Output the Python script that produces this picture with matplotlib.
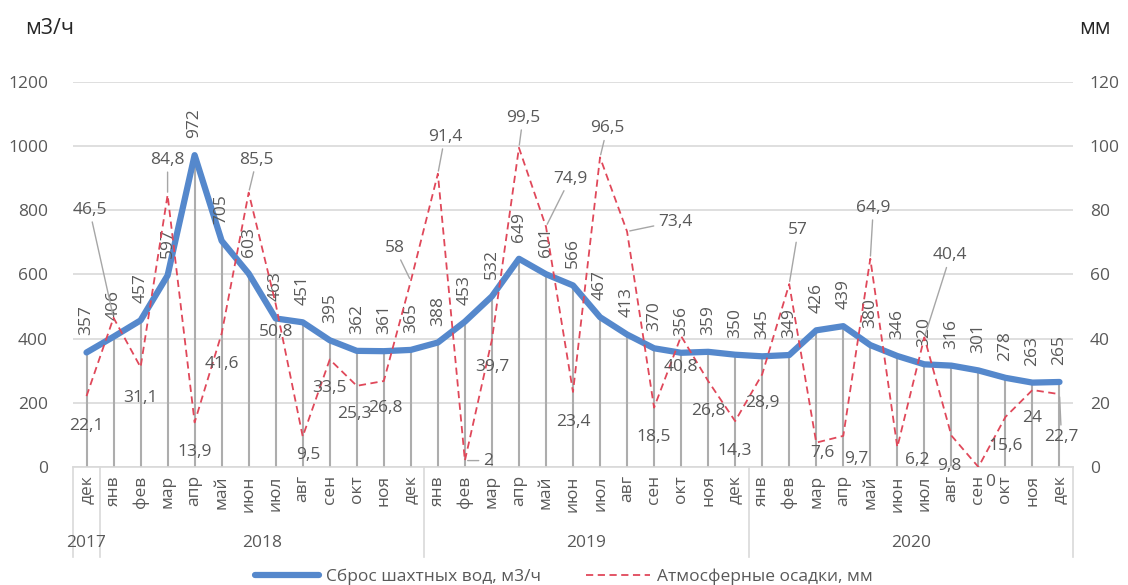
import matplotlib
matplotlib.use("Agg")
import matplotlib.pyplot as plt
import matplotlib.transforms as mtransforms
from matplotlib.lines import Line2D

plt.rcParams['font.family'] = ['Open Sans', 'DejaVu Sans']

# Данные: дек 2017 - дек 2020
months = ["дек",
          "янв", "фев", "мар", "апр", "май", "июн", "июл", "авг", "сен", "окт", "ноя", "дек",
          "янв", "фев", "мар", "апр", "май", "июн", "июл", "авг", "сен", "окт", "ноя", "дек",
          "янв", "фев", "мар", "апр", "май", "июн", "июл", "авг", "сен", "окт", "ноя", "дек"]
years = ["2017", "2018", "2019", "2020"]
year_counts = [1, 12, 12, 12]

sbros = [357, 406, 457, 597, 972, 705, 603, 463, 451, 395, 362, 361, 365,
         388, 453, 532, 649, 601, 566, 467, 413, 370, 356, 359, 350,
         345, 349, 426, 439, 380, 346, 320, 316, 301, 278, 263, 265]
osadki = [22.1, 46.5, 31.1, 84.8, 13.9, 41.6, 85.5, 50.8, 9.5, 33.5, 25.3, 26.8, 58,
          91.4, 2, 39.7, 99.5, 74.9, 23.4, 96.5, 73.4, 18.5, 40.8, 26.8, 14.3,
          28.9, 57, 7.6, 9.7, 64.9, 6.2, 40.4, 9.8, 0, 15.6, 24, 22.7]

# смещения подписей осадков (пиксели) и выноски
osadki_off = [(0, -30), (-24, 108), (0, -31), (0, 35), (0, -30), (0, -30), (8, 33), (0, -28),
              (6, -18), (0, -28), (-2, -28), (2, -27), (-16, 33),
              (7, 37), (23, 0), (0, -27), (4, 30), (24, 48), (0, -30), (7, 29), (48, 10),
              (0, -29), (0, -31), (0, -30), (0, -30),
              (0, -29), (9, 54), (6, -10), (13, -23), (3, 51), (20, -13), (26, 82), (-2, -30),
              (12, -15), (0, -29), (0, -28), (2, -43)]
leaders = {1, 3, 6, 12, 13, 14, 16, 17, 19, 20, 26, 29, 31, 36}

blue = "#5588CC"
red = "#E0485A"
grey_txt = "#595959"
grid_c = "#D9D9D9"
fs = 12.5

x = list(range(len(months)))

fig = plt.figure(figsize=(11.28, 5.85), dpi=100)
ax = fig.add_axes([73 / 1128, 118 / 585, 1000 / 1128, 385 / 585])
ax2 = ax.twinx()

# линии-проекции
ax.vlines(x, 0, sbros, color="#ADADAD", lw=1.5, zorder=1)
ax.plot(x, sbros, color=blue, lw=4.5, solid_capstyle="round", zorder=3,
        label="Сброс шахтных вод, м3/ч")
ax2.plot(x, osadki, color=red, lw=1.3, ls=(0, (4, 2.5)), zorder=3,
         label="Атмосферные осадки, мм")

ax.set_xlim(-0.5, len(months) - 0.5)
ax.set_ylim(0, 1200)
ax2.set_ylim(0, 120)
ax.set_yticks(range(0, 1201, 200))
ax2.set_yticks(range(0, 121, 20))
ax.grid(axis="y", color=grid_c, lw=1.2)
ax.set_axisbelow(True)

for a in (ax, ax2):
    for s in a.spines.values():
        s.set_visible(False)
ax.tick_params(axis="y", length=0, pad=18, labelsize=fs, labelcolor=grey_txt)
ax2.tick_params(axis="y", length=0, pad=12, labelsize=fs, labelcolor=grey_txt)

ax.set_xticks(x)
ax.set_xticklabels(months, rotation=90, fontsize=fs, color=grey_txt)
ax.tick_params(axis="x", length=0, pad=6)

# ось категорий: линии и годы
trans = mtransforms.blended_transform_factory(ax.transData, ax.transAxes)
ax.add_line(Line2D([-0.5, len(months) - 0.5], [0, 0], transform=trans, color=grid_c,
                   lw=1.2, clip_on=False))
edges = [-0.5]
for c in year_counts:
    edges.append(edges[-1] + c)
for e in edges:
    ax.add_line(Line2D([e, e], [0, -0.234], transform=trans, color=grid_c, lw=1.2,
                       clip_on=False))
for i, yr in enumerate(years):
    cx = (edges[i] + edges[i + 1]) / 2
    ax.text(cx, -0.197, yr, transform=trans, ha="center", va="center",
            fontsize=fs, color=grey_txt)

# подписи сброса
for xi, v in zip(x, sbros):
    ax.annotate(f"{v}", (xi, v), xytext=(0, 17), textcoords="offset pixels",
                rotation=90, ha="center", va="bottom", fontsize=fs, color=grey_txt,
                zorder=5)

# подписи осадков
for i, (v, off) in enumerate(zip(osadki, osadki_off)):
    lbl = f"{v:g}".replace(".", ",")
    props = None
    if i in leaders:
        props = dict(arrowstyle="-", color="#A6A6A6", lw=1, shrinkA=1, shrinkB=2)
    ax2.annotate(lbl, (i, v), xytext=off, textcoords="offset pixels",
                 ha="center", va="center", fontsize=fs, color=grey_txt,
                 arrowprops=props, zorder=5)

fig.text(25 / 1128, 1 - 28 / 585, "м3/ч", ha="left", va="center", fontsize=15.5, color="#262626")
fig.text(1079 / 1128, 1 - 28 / 585, "мм", ha="left", va="center", fontsize=15.5, color="#262626")

h1, l1 = ax.get_legend_handles_labels()
h2, l2 = ax2.get_legend_handles_labels()
fig.legend(h1 + h2, l1 + l2, loc="center", bbox_to_anchor=(0.5, 1 - 577 / 585), ncol=2,
           frameon=False, fontsize=fs, handlelength=3.7, columnspacing=2.6,
           labelcolor=grey_txt, handletextpad=0.4)

fig.savefig("out.png", dpi=100)
